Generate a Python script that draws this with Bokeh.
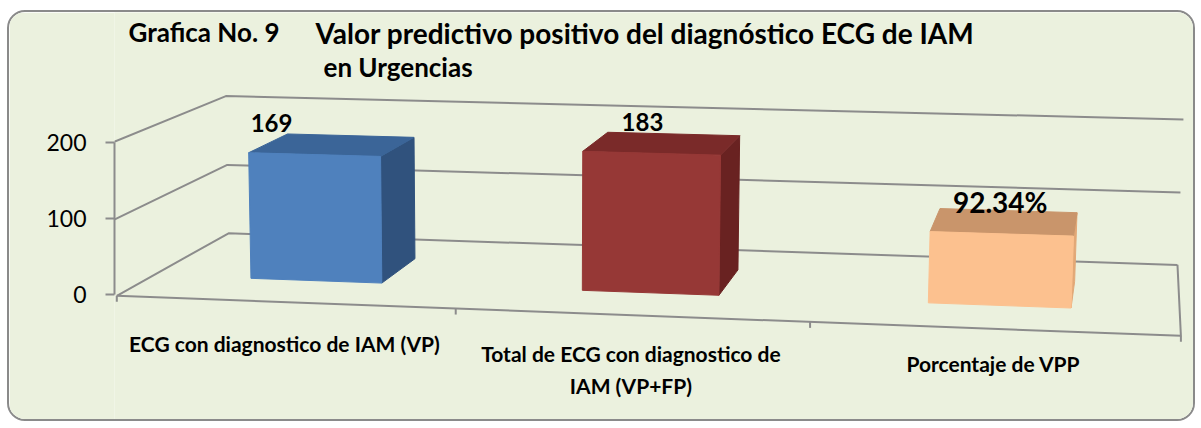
import numpy as np
from bokeh.plotting import figure
from bokeh.models import Range1d, FixedTicker
from bokeh.core.properties import value
from bokeh.embed import file_html
from bokeh.resources import INLINE

# ---------------- data ----------------
categories = [
    "ECG con diagnostico de IAM (VP)",
    "Total de ECG con diagnostico de\nIAM (VP+FP)",
    "Porcentaje de VPP",
]
values = [169, 183, 92.34]
value_labels = ["169", "183", "92.34%"]
y_ticks = [0, 100, 200]
title_left = "Grafica No. 9"
title_main = "Valor predictivo positivo del diagnóstico ECG de IAM"
title_line2 = "en Urgencias"

# ---------------- styles ----------------
BG = "#EBF1DE"
GRID = "#8c8c8c"
FRONT = ["#4F81BD", "#963836", "#FCC18F"]
TOP = ["#3B6598", "#7A2A29", "#C9956B"]
SIDE = ["#30527D", "#692221", "#E2A877"]
FONT = value("Lato")
CAP = 0.27   # offset of the cap top below a "top" anchored text, in em

# ---------------- layout (image pixels) ----------------
MARGIN_L, MARGIN_T, BORDER = 7, 10, 2
CANVAS_X0, CANVAS_Y0 = MARGIN_L + BORDER, MARGIN_T + BORDER
W, H = 1188, 411
AXIS_X = 114
Y0, K = 294.0, 0.76          # front-left value scale (px per unit)


def to_dy(y_img):
    return (Y0 - y_img) / K


# 3D box frame of the Excel chart: world (u across, w depth, t = v / vmax)
VMAX = max(y_ticks)
CAL_WORLD = np.array([[0, 0, 0], [1, 0, 0], [0, 1, 0], [1, 1, 0], [0, 0, 1], [0, 1, 1],
                      [1, 1, 1], [0, 0, .5], [0, 1, .5], [1, 1, .5], [1 / 3, 0, 0], [2 / 3, 0, 0]])
CAL_IMG = np.array([[116, 294], [1180, 335], [228, 233], [1177, 263], [112, 142], [225, 96],
                    [1183, 119], [115, 217], [227, 165], [1180, 192], [455, 310], [810, 323]], float)


def fit_camera(world, img):
    c = img.mean(0)
    s = 500.0
    n = (img - c) / s
    rows = []
    for (X, Y, Z), (x, y) in zip(world, n):
        rows.append([X, Y, Z, 1, 0, 0, 0, 0, -x * X, -x * Y, -x * Z, -x])
        rows.append([0, 0, 0, 0, X, Y, Z, 1, -y * X, -y * Y, -y * Z, -y])
    _, _, vt = np.linalg.svd(np.array(rows))
    return vt[-1].reshape(3, 4), c, s


P, C, S = fit_camera(CAL_WORLD, CAL_IMG)


def proj_img(u, w, v):
    h = P @ np.array([u, w, v / VMAX, 1.0])
    return h[0] / h[2] * S + C[0], h[1] / h[2] * S + C[1]


def proj(u, w, v):
    x, y = proj_img(u, w, v)
    return x, to_dy(y)


p = figure(width=W, height=H, output_backend="svg", toolbar_location=None,
           x_range=Range1d(AXIS_X, CANVAS_X0 + W),
           y_range=Range1d(to_dy(CANVAS_Y0 + H), to_dy(CANVAS_Y0)),
           x_axis_location=None, y_axis_location="left",
           min_border_left=AXIS_X - CANVAS_X0, min_border_right=0,
           min_border_top=0, min_border_bottom=0,
           background_fill_color=BG, border_fill_color=BG, outline_line_color=None)
p.styles = {"border": f"{BORDER}px solid #8a8a8a", "border-radius": "18px", "overflow": "hidden",
            "margin": f"{MARGIN_T}px 0px 0px {MARGIN_L}px"}
p.grid.visible = False

ax = p.yaxis[0]
ax.ticker = FixedTicker(ticks=y_ticks)
ax.bounds = (min(y_ticks), max(y_ticks))
ax.axis_line_color = GRID
ax.axis_line_width = 2
ax.major_tick_line_color = GRID
ax.major_tick_line_width = 2
ax.major_tick_out = 9
ax.major_tick_in = 0
ax.minor_tick_out = 0
ax.minor_tick_in = 0
ax.major_label_standoff = 19
ax.major_label_text_font = "Lato"
ax.major_label_text_font_size = "23px"
ax.major_label_text_color = "#000000"

# ---------------- walls & floor ----------------
gx, gy = [], []
for t in y_ticks:
    pts = [proj(0, 0, t), proj(0, 1, t), proj(1, 1, t)]
    gx.append([q[0] for q in pts])
    gy.append([q[1] for q in pts])
floor = [proj(0, 0, 0), proj(1, 0, 0), proj(1, 1, 0)]
gx.append([q[0] for q in floor])
gy.append([q[1] for q in floor])
ncat = len(categories)
for k in range(ncat + 1):
    x0, y0 = proj_img(k / ncat, 0, 0)
    gx.append([x0, x0])
    gy.append([to_dy(y0), to_dy(y0 + 6)])
p.multi_line(xs=gx, ys=gy, line_color=GRID, line_width=2)

# ---------------- bars ----------------
BAR_HALF = 0.4 / 2
W_FRONT, W_BACK = 0.31, 0.69
fx, fy, fc = [], [], []
for i, val in enumerate(values):
    cu = (i + 0.5) / ncat
    u0, u1 = cu - BAR_HALF / ncat, cu + BAR_HALF / ncat
    faces = [
        ([(u1, W_FRONT, 0), (u1, W_BACK, 0), (u1, W_BACK, val), (u1, W_FRONT, val)], SIDE[i]),
        ([(u0, W_FRONT, val), (u1, W_FRONT, val), (u1, W_BACK, val), (u0, W_BACK, val)], TOP[i]),
        ([(u0, W_FRONT, 0), (u1, W_FRONT, 0), (u1, W_FRONT, val), (u0, W_FRONT, val)], FRONT[i]),
    ]
    for pts, col in faces:
        pp = [proj(*q) for q in pts]
        fx.append([q[0] for q in pp])
        fy.append([q[1] for q in pp])
        fc.append(col)
p.patches(xs=fx, ys=fy, fill_color=fc, line_color=fc, line_width=1)

# ---------------- data labels ----------------
LABEL_DX = [-79, -31, -8]
LABEL_PX = [24, 24, 28]
LABEL_GAP = [15, 15, 18]
lx, ly = [], []
for i, val in enumerate(values):
    x, y = proj_img((i + 0.5) / ncat, W_BACK, val)
    lx.append(x + LABEL_DX[i])
    ly.append(to_dy(y - LABEL_GAP[i] - CAP * LABEL_PX[i]))
p.text(x=lx, y=ly, text=value_labels, text_font=FONT, text_font_style="bold",
       text_font_size=[f"{s}px" for s in LABEL_PX], text_align="center", text_baseline="top",
       text_color="#000000")

# ---------------- category labels ----------------
CAT_PX = 21
CAT_GAP = [35, 32, 28]
cx, cy = [], []
for i in range(ncat):
    x, y = proj_img((i + 0.5) / ncat, 0, 0)
    cx.append(x)
    cy.append(to_dy(y + CAT_GAP[i] - CAP * CAT_PX))
p.text(x=cx, y=cy, text=categories, text_font=FONT, text_font_style="bold",
       text_font_size=f"{CAT_PX}px", text_align="center", text_baseline="top",
       text_line_height=1.25, text_color="#000000")

# ---------------- title ----------------
TITLE_PX = [26, 28, 26]
p.text(x=[128, 315, 323],
       y=[to_dy(23 - CAP * TITLE_PX[0]), to_dy(23 - CAP * TITLE_PX[1]), to_dy(58 - CAP * TITLE_PX[2])],
       text=[title_left, title_main, title_line2], text_font=FONT, text_font_style="bold",
       text_font_size=[f"{s}px" for s in TITLE_PX], text_align="left", text_baseline="top",
       text_color="#000000")

open("out.html", "w").write(file_html(p, INLINE))
